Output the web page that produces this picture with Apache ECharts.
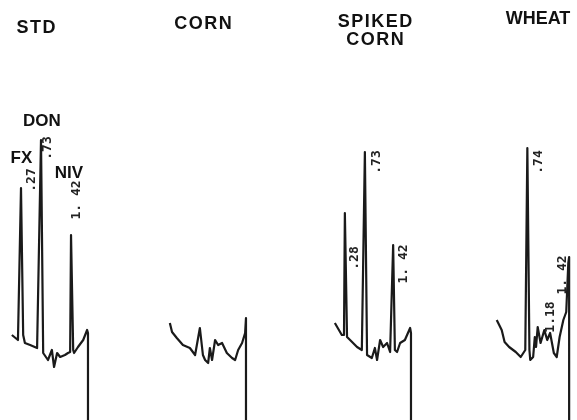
<!DOCTYPE html>
<html><head><meta charset="utf-8">
<script src="https://cdn.jsdelivr.net/npm/echarts@6/dist/echarts.min.js"></script>
<style>html,body{margin:0;padding:0;background:#fff}#c{width:577px;height:420px}</style>
</head><body><div id="c"></div>
<script>
// Panel titles
const panelTitles = ["S\u200AT\u200AD", "C\u200AO\u200AR\u200AN", "S\u200AP\u200AI\u200AK\u200AE\u200AD\nC\u200AO\u200AR\u200AN", "WHEAT"];
// Retention time (min) and detector response (arbitrary units) for each trace
const stdTime   = [0.06,0.20,0.22,0.27,0.32,0.36,0.48,0.64,0.68,0.73,0.78,0.89,0.98,1.03,1.10,1.17,1.28,1.35,1.40,1.42,1.47,1.49,1.58,1.70,1.79,1.81,1.81];
const stdResp   = [8.5,8.0,8.0,23.2,8.5,7.7,7.5,7.2,7.0,28.0,6.7,6.0,7.0,5.3,6.7,6.3,6.5,6.7,6.8,18.5,7.0,6.7,7.3,8.0,9.0,8.7,-1];
const cornTime  = [0.06,0.11,0.22,0.36,0.52,0.64,0.68,0.75,0.82,0.87,0.94,0.98,1.03,1.10,1.17,1.26,1.37,1.49,1.56,1.63,1.72,1.79,1.81,1.81];
const cornResp  = [9.7,8.8,8.2,7.5,7.2,6.5,6.3,9.2,6.5,6.0,5.7,7.2,6.0,8.0,7.5,7.7,6.7,6.2,6.0,7.0,7.7,8.7,10.2,-1];
const spkTime   = [0.06,0.22,0.27,0.29,0.34,0.41,0.57,0.68,0.71,0.75,0.80,0.82,0.91,0.98,1.03,1.10,1.17,1.26,1.33,1.37,1.40,1.44,1.49,1.56,1.67,1.79,1.81,1.81];
const spkResp   = [9.7,8.5,8.5,20.7,8.3,8.0,7.3,7.0,6.8,26.8,6.5,6.3,6.2,7.2,6.0,8.0,7.3,7.7,6.8,7.0,17.5,7.0,6.8,7.7,8.0,9.2,8.7,-1];
const whtTime   = [0.06,0.18,0.25,0.36,0.52,0.64,0.75,0.80,0.85,0.87,0.94,0.98,1.01,1.05,1.12,1.21,1.28,1.35,1.44,1.51,1.58,1.67,1.74,1.79,1.81,1.81];
const whtResp   = [10.0,9.0,7.8,7.3,6.8,6.3,7.0,27.2,7.0,6.0,6.3,8.3,7.3,9.3,7.7,9.0,8.0,8.7,6.7,6.3,8.3,10.0,10.8,15.7,16.3,-1];
// Peak labels: panel, time, response, text
const peakPanel = [0,0,0,2,2,2,3,3,3];
const peakTime  = [0.52,0.89,1.56,0.52,1.03,1.63,1.07,1.65,1.37];
const peakResp  = [24.0,27.2,22.0,16.2,25.8,15.6,25.8,14.5,10.3];
const peakText  = [".27",".73","1. 42",".28",".73","1. 42",".74","1. 42","1.18"];
// Compound names (STD panel)
const cmpTime = [0.75,0.28,1.37];
const cmpResp = [29.9,26.2,24.7];
const cmpText = ["DON","FX","NIV"];

const traces = [[stdTime,stdResp],[cornTime,cornResp],[spkTime,spkResp],[whtTime,whtResp]];
const gridLefts = [9.25,167.25,332.25,494.25];
const chart = echarts.init(document.getElementById('c'), null, {renderer:'canvas'});
const grids = gridLefts.map(l => ({left:l, top:0, width:87, height:420}));
const xAxes = grids.map((g,i)=>({type:'value', gridIndex:i, min:0, max:2, show:false}));
const yAxes = grids.map((g,i)=>({type:'value', gridIndex:i, min:0, max:42, show:false}));
const series = traces.map((tr,i)=>({
  type:'line', xAxisIndex:i, yAxisIndex:i, symbol:'none', animation:false,
  data: tr[0].map((t,k)=>[t, tr[1][k]]),
  lineStyle:{color:'#1a1a1a', width:2.2, join:'round'}
}));
chart.setOption({animation:false, grid:grids, xAxis:xAxes, yAxis:yAxes, series:series});

const titlePos = [[36,28.5],[203,24.5],[375,31],[538,19.5]];
const graphics = [];
panelTitles.forEach((t,i)=>{
  graphics.push({type:'text', x:titlePos[i][0], y:titlePos[i][1],
    style:{text:t, fill:'#111', font:'bold 18px "Liberation Sans", Arial, sans-serif', align:'center', verticalAlign:'middle', lineHeight:18}});
});
peakText.forEach((t,i)=>{
  const p = chart.convertToPixel({gridIndex:peakPanel[i]}, [peakTime[i], peakResp[i]]);
  graphics.push({type:'text', x:p[0], y:p[1], rotation:Math.PI/2,
    style:{text:t, fill:'#222', font:'bold 13px "DejaVu Sans Mono", monospace', align:'center', verticalAlign:'middle'}});
});
cmpText.forEach((t,i)=>{
  const p = chart.convertToPixel({gridIndex:0}, [cmpTime[i], cmpResp[i]]);
  graphics.push({type:'text', x:p[0], y:p[1],
    style:{text:t, fill:'#111', font:'bold 17px "Liberation Sans", Arial, sans-serif', align:'center', verticalAlign:'middle'}});
});
chart.setOption({graphic:graphics});
</script></body></html>
